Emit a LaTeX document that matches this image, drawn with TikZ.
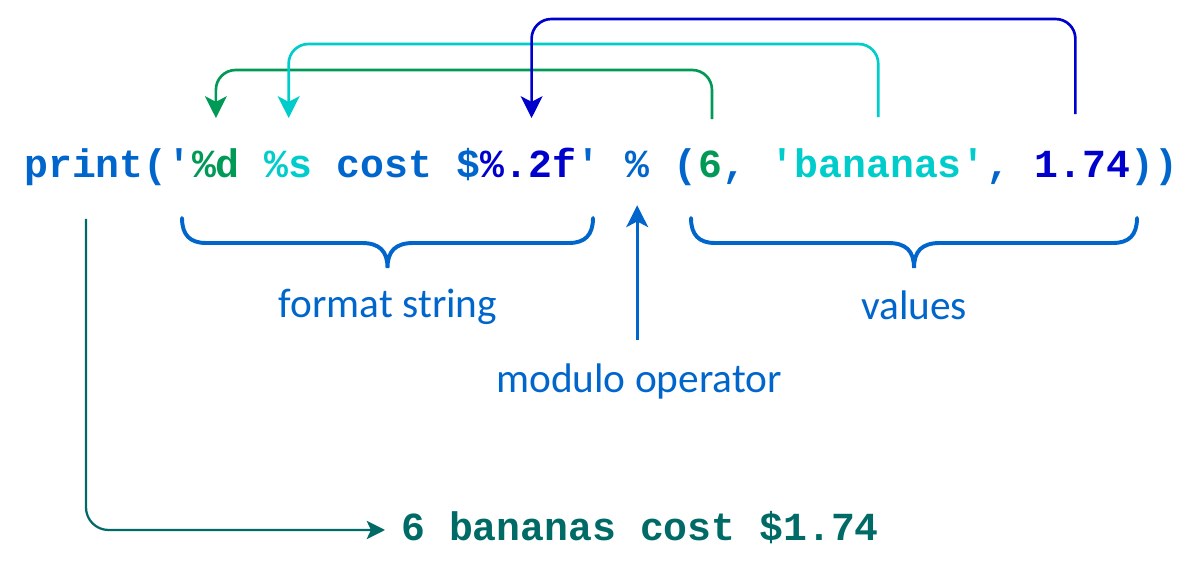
\documentclass[tikz,border=0pt]{standalone}
\usepackage{fontspec}
\setmonofont{Liberation Mono}
\setsansfont{Carlito}
\usepackage{tikz}
\usetikzlibrary{positioning, arrows.meta, calc}
\definecolor{codemid}{HTML}{0066CC}
\definecolor{codegreen}{HTML}{009955}
\definecolor{codecyan}{HTML}{00CCCC}
\definecolor{codedark}{HTML}{0000CC}
\definecolor{codeteal}{HTML}{006B66}
\newcommand{\codefont}{\fontsize{28.3}{34}\selectfont\ttfamily\bfseries}
\newcommand{\lblfont}{\fontsize{29.4}{34}\selectfont\sffamily}
\newcommand{\tsp}{\ \kern0pt}

\begin{document}
\begin{tikzpicture}[x=0.025cm, y=0.025cm,
  cd/.style={font=\codefont, inner sep=0pt, text height=20.4pt, text depth=5.7pt, text=codemid},
  lbl/.style={font=\lblfont, inner sep=0pt, text=codemid},
  link/.style={line width=1.9pt, rounded corners=14pt, -{Stealth[length=15.5pt, width=15.5pt, inset=4pt]}},
  brc/.style={line width=2.8pt, draw=codemid, line cap=round}]
\useasboundingbox (0,0) rectangle (1200,569);

% code line
\node[cd, anchor=base west](pr) at (24,391) {print('};
\node[cd, base right=0pt of pr, text=codegreen](fd) {\%d};
\node[cd, base right=0pt of fd](s1) {\tsp};
\node[cd, base right=0pt of s1, text=codecyan](fs) {\%s};
\node[cd, base right=0pt of fs](c1) {\ cost\ \$};
\node[cd, base right=0pt of c1, text=codedark](ff) {\%.2f};
\node[cd, base right=0pt of ff](c2) {'\tsp};
\node[cd, base right=0pt of c2](mo) {\%};
\node[cd, base right=0pt of mo](c3) {\ (};
\node[cd, base right=0pt of c3, text=codegreen](v1) {6};
\node[cd, base right=0pt of v1](c4) {,\tsp};
\node[cd, base right=0pt of c4, text=codecyan](v2) {'bananas'};
\node[cd, base right=0pt of v2](c5) {,\tsp};
\node[cd, base right=0pt of c5, text=codedark](v3) {1.74};
\node[cd, base right=0pt of v3](c6) {))};

% labels
\node[lbl, anchor=base](fmt) at (388,251) {format string};
\node[lbl, anchor=base](vals) at (914,249) {values};
\node[lbl, anchor=base](modop) at (639,176) {modulo operator};
\node[cd, anchor=base west, text=codeteal](out) at (401,28) {6 bananas cost \$1.74};

% braces
\foreach \l/\r in {182/593, 691/1137}{
  \pgfmathsetmacro{\c}{(\l+\r)/2}
  \draw[brc] (\l,351) .. controls (\l,334) and (\l+8,326) .. (\l+24,326)
    -- (\c-26,326) .. controls (\c-8,326) and (\c,318) .. (\c,301)
    .. controls (\c,318) and (\c+8,326) .. (\c+26,326)
    -- (\r-24,326) .. controls (\r-8,326) and (\r,334) .. (\r,351);
}

% substitution arrows
\draw[link, codegreen] ($(v1.north)+(2,30)$) |- ($(fd.north)+(0,79)$) -- ($(fd.north)+(0,31)$);
\draw[link, codecyan] ($(v2.north)+(0,32)$) |- ($(fs.north)+(0,105)$) -- ($(fs.north)+(0,31)$);
\draw[link, codedark] ($(v3.north)+(-7,35)$) |- ($(ff.north)+(3,130)$) -- ($(ff.north)+(3,31)$);
\coordinate (mtip) at ($(mo.south)+(0,-19)$);
\draw[link, codemid, line width=2.2pt] ($(mtip |- modop.north)+(0,24)$) -- (mtip);

% result
\coordinate (res) at ($(pr.base west)+(62,-41)$);
\draw[link, codeteal, line width=1.6pt, rounded corners=16pt,
  -{Stealth[length=13pt, width=13pt, inset=3pt]}] (res) |- ($(out.base west)+(-16,11)$);

\end{tikzpicture}
\end{document}
